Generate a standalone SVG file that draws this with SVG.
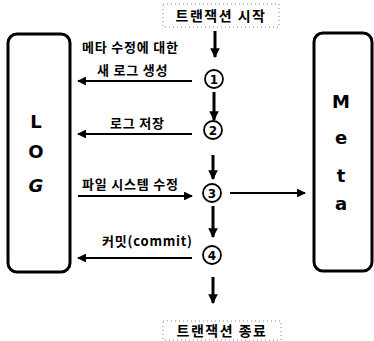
<svg xmlns="http://www.w3.org/2000/svg" width="374" height="341" viewBox="0 0 374 341">
<defs>
<marker id="ah" viewBox="0 0 10 10" refX="9" refY="5" markerWidth="4" markerHeight="4" markerUnits="strokeWidth" orient="auto">
<path d="M0,0 L10,5 L0,10 z" fill="#000"/>
</marker>
<marker id="ahv" viewBox="0 0 10 10" refX="9" refY="5" markerWidth="3.2" markerHeight="3.4" markerUnits="strokeWidth" orient="auto">
<path d="M0,0 L10,5 L0,10 z" fill="#000"/>
</marker>
</defs>
<style>
.kt{font-family:"Noto Sans CJK KR","Noto Sans",sans-serif;font-weight:bold;font-size:13px;letter-spacing:0.8px;fill:#000}
.big{font-family:"DejaVu Sans","Noto Sans",sans-serif;font-weight:bold;font-size:18px;fill:#000;text-anchor:middle}
.num{font-family:"DejaVu Sans",sans-serif;font-weight:bold;font-size:12px;fill:#000;text-anchor:middle}
.box{fill:#fff;stroke:#000;stroke-width:3}
.dash{fill:none;stroke:#888;stroke-width:1;stroke-dasharray:1 3}
.circ{fill:#fff;stroke:#000;stroke-width:1.8}
.h{stroke:#000;stroke-width:2.2;fill:none}
.v{stroke:#000;stroke-width:3;fill:none}
</style>
<rect width="374" height="341" fill="#fff"/>
<g id="start">
<rect class="dash" x="163" y="4" width="116" height="23"/>
<text class="kt" x="221" y="20.5" text-anchor="middle" style="font-size:14px;letter-spacing:1.5px">트랜잭션 시작</text>
</g>
<g id="end">
<rect class="dash" x="163" y="321" width="118" height="19"/>
<text class="kt" x="222" y="336" text-anchor="middle" style="font-size:14px;letter-spacing:1.5px">트랜잭션 종료</text>
</g>
<g id="log">
<rect class="box" x="8" y="34" width="62" height="238" rx="9"/>
<text class="big" x="36" y="128">L</text>
<text class="big" x="36" y="158">O</text>
<text class="big" x="36" y="192" font-style="italic">G</text>
</g>
<g id="meta">
<rect class="box" x="314" y="33" width="58" height="238" rx="9"/>
<text class="big" x="341" y="108">M</text>
<text class="big" x="341" y="144">e</text>
<text class="big" x="341" y="182">t</text>
<text class="big" x="341" y="210">a</text>
</g>
<g id="s1"><circle class="circ" cx="214" cy="79" r="9"/><text class="num" x="214" y="83.5">1</text></g>
<g id="s2"><circle class="circ" cx="213" cy="130" r="9"/><text class="num" x="213" y="134.5">2</text></g>
<g id="s3"><circle class="circ" cx="212" cy="193" r="9"/><text class="num" x="212" y="197.5">3</text></g>
<g id="s4"><circle class="circ" cx="212" cy="255" r="9"/><text class="num" x="212" y="259.5">4</text></g>
<g id="connectors">
<line class="v" x1="215" y1="31" x2="215" y2="57" marker-end="url(#ahv)"/>
<line class="v" x1="214" y1="92" x2="214" y2="120" marker-end="url(#ahv)"/>
<line class="v" x1="213" y1="155" x2="213" y2="179" marker-end="url(#ahv)"/>
<line class="v" x1="213" y1="206" x2="213" y2="237" marker-end="url(#ahv)"/>
<line class="v" x1="213" y1="277" x2="213" y2="303" marker-end="url(#ahv)"/>
<line class="h" x1="192" y1="81" x2="78" y2="81" marker-end="url(#ah)"/>
<line class="h" x1="192" y1="134" x2="78" y2="134" marker-end="url(#ah)"/>
<line class="h" x1="78" y1="196" x2="192" y2="196" marker-end="url(#ah)"/>
<line class="h" x1="230" y1="193" x2="305" y2="193" marker-end="url(#ah)"/>
<line class="h" x1="192" y1="258" x2="78" y2="258" marker-end="url(#ah)"/>
</g>
<g id="labels">
<text class="kt" x="82" y="52">메타 수정에 대한</text>
<text class="kt" x="97" y="75">새 로그 생성</text>
<text class="kt" x="110" y="128">로그 저장</text>
<text class="kt" x="82" y="189">파일 시스템 수정</text>
<text class="kt" x="102" y="246">커밋(commit)</text>
</g>
</svg>
